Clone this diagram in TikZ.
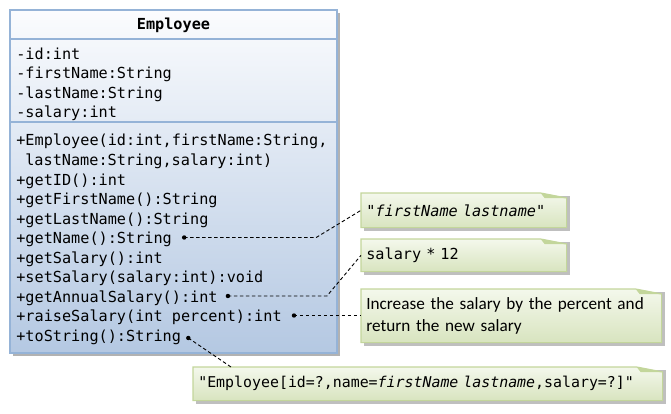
\documentclass[tikz,border=0pt]{standalone}
\usepackage{fontspec}
\setmonofont{DejaVu Sans Mono}[WordSpace={1,0,0}]
\setsansfont{Carlito}
\usetikzlibrary{positioning,calc,backgrounds}
\definecolor{umlline}{HTML}{95B3D7}
\definecolor{umltop}{HTML}{FBFCFE}
\definecolor{umlbottom}{HTML}{B4C8E2}
\definecolor{noteline}{HTML}{C3D69B}
\definecolor{notetop}{HTML}{F4F8EC}
\definecolor{notebottom}{HTML}{D8E4BF}
\newcommand{\codefont}{\ttfamily\fontsize{15.2}{19}\selectfont}

\begin{document}
\begin{tikzpicture}[x=1pt, y=-1pt, semithick]
\tikzstyle{member}=[anchor=base west, inner sep=0pt, font=\codefont]
\tikzstyle{note}=[anchor=north west, inner xsep=5pt, inner ysep=0pt, align=left, font=\codefont]
\tikzstyle{link}=[dash pattern=on 3.5pt off 2.5pt, line width=0.9pt]
\useasboundingbox (0,0) rectangle (671,414);
% class box
\fill[black!30] (13,13) rectangle (340,356);
\shade[top color=umltop, bottom color=umlbottom] (10,10) rectangle (337,353);
\draw[umlline, line width=1.5pt] (10,10) rectangle (337,353) (10,39) -- (337,39) (10,122) -- (337,122);
\node[member, anchor=base, font=\codefont\bfseries] (title) at (173.5,30) {Employee};
\node[member] (id)        at (16,60)    {-id:int};
\node[member] (first)     at (16,79)    {-firstName:String};
\node[member] (last)      at (16,98.5)  {-lastName:String};
\node[member] (salary)    at (16,118)   {-salary:int};
\node[member] (ctor)      at (16,146)   {+Employee(id:int,firstName:String,};
\node[member] (ctorb)     at (25,165.5) {lastName:String,salary:int)};
\node[member] (getid)     at (16,185)   {+getID():int};
\node[member] (getfirst)  at (16,204.5) {+getFirstName():String};
\node[member] (getlast)   at (16,224)   {+getLastName():String};
\node[member] (getname)   at (16,243.5) {+getName():String};
\node[member] (getsalary) at (16,263)   {+getSalary():int};
\node[member] (setsalary) at (16,282.5) {+setSalary(salary:int):void};
\node[member] (annual)    at (16,302)   {+getAnnualSalary():int};
\node[member] (raise)     at (16,321.5) {+raiseSalary(int percent):int};
\node[member] (tostring)  at (16,341)   {+toString():String};
% notes
\node[note, text width=195pt, minimum height=34pt] (n1) at (361,193) {"\textit{firstName lastname}"};
\node[note, text width=195pt, minimum height=32pt] (n2) at (361,239) {salary * 12};
\node[note, text width=290pt, minimum height=53pt, font=\sffamily\fontsize{17.2}{22.5}\selectfont] (n3) at (361,289)
  {Increase the salary by the percent and\\return the new salary};
\node[note, text width=459pt, minimum height=33pt, font=\ttfamily\fontsize{14.9}{19}\selectfont] (n4) at (193,367)
  {"Employee[id=?,name=\textit{firstName lastname},salary=?]"};
\begin{scope}[on background layer]
\foreach \n in {n1,n2,n3,n4}{
  \fill[black!25] ([shift={(3pt,-3pt)}]\n.north west) rectangle ([shift={(3pt,-3pt)}]\n.south east);
  \shadedraw[top color=notetop, bottom color=notebottom, draw=noteline, line width=1.2pt]
    (\n.north west) -- ([xshift=-26pt]\n.north east) -- ([yshift=-5pt]\n.north east)
    -- (\n.south east) -- (\n.south west) -- cycle;
  \fill[noteline] ([xshift=-26pt]\n.north east) -- ([yshift=-5pt]\n.north east)
    -- ([xshift=-22pt,yshift=-5pt]\n.north east) -- cycle;
}
\end{scope}
% connectors
\coordinate (d1) at ([xshift=12pt, yshift=6pt]getname.base east);
\coordinate (d2) at ([xshift=10pt, yshift=6pt]annual.base east);
\coordinate (d3) at ([xshift=12pt, yshift=6pt]raise.base east);
\coordinate (d4) at ([xshift=7pt, yshift=3pt]tostring.base east);
\draw[link] (d1) -- ++(132,0) -- (n1.west);
\draw[link] (d2) -- ++(99,0) -- (n2.west);
\draw[link] (d3) -- (d3 -| n3.west);
\draw[link] (d4) -- ([xshift=38pt]n4.north west);
\foreach \d in {d1,d2,d3,d4} \fill (\d) circle (2.2pt);
\end{tikzpicture}
\end{document}
